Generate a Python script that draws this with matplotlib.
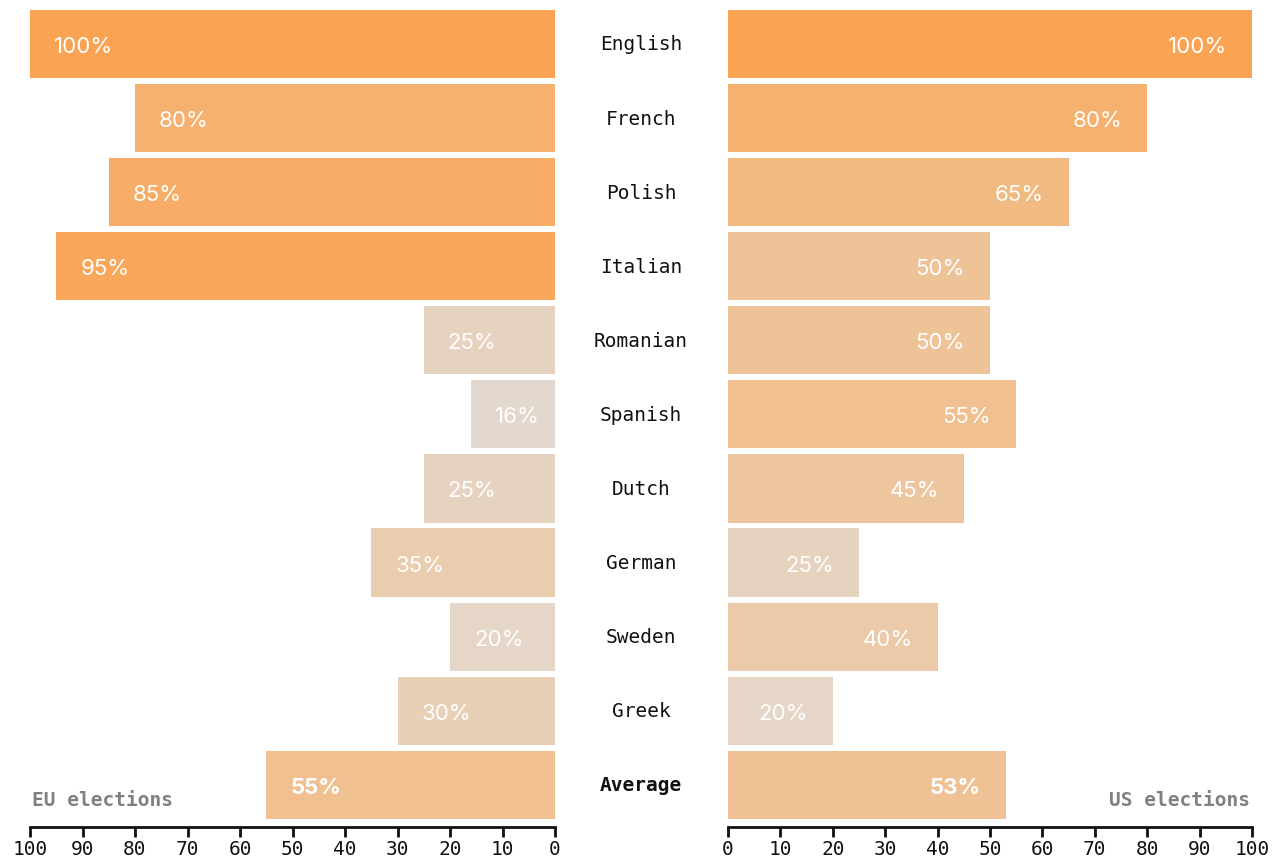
import matplotlib
matplotlib.use("Agg")
import matplotlib.pyplot as plt
from matplotlib.colors import LinearSegmentedColormap, Normalize

categories = ["English", "French", "Polish", "Italian", "Romanian", "Spanish",
              "Dutch", "German", "Sweden", "Greek", "Average"]
eu_values = [100, 80, 85, 95, 25, 16, 25, 35, 20, 30, 55]
us_values = [100, 80, 65, 50, 50, 55, 45, 25, 40, 20, 53]
ticks = [0, 10, 20, 30, 40, 50, 60, 70, 80, 90, 100]

cmap = LinearSegmentedColormap.from_list(
    "warm", [(0.0, "#e3d9cf"), (0.41, "#efc398"), (1.0, "#faa453")])
norm = Normalize(vmin=15, vmax=100)

MONO = ["DejaVu Sans Mono"]
VAL = ["Inter", "DejaVu Sans"]

fig = plt.figure(figsize=(12.84, 8.62), dpi=100)
W, H = 1284, 862
bottom = (H - 828) / H
height = 820 / H
axL = fig.add_axes([30 / W, bottom, 525 / W, height])
axR = fig.add_axes([728 / W, bottom, 524 / W, height])

ypos = list(range(len(categories)))
bar_h = 0.92

for ax, vals, side in [(axL, eu_values, "L"), (axR, us_values, "R")]:
    colors = [cmap(norm(v)) for v in vals]
    ax.barh(ypos, vals, height=bar_h, color=colors, edgecolor="none")
    ax.set_xlim(0, 100)
    ax.set_ylim(10.57, -0.5)
    if side == "L":
        ax.invert_xaxis()
    for s in ["top", "left", "right"]:
        ax.spines[s].set_visible(False)
    ax.spines["bottom"].set_linewidth(2)
    ax.spines["bottom"].set_color("#111111")
    ax.set_yticks([])
    ax.set_xticks(ticks)
    ax.set_xticklabels([str(t) for t in ticks], family=MONO, fontsize=14, color="#111111")
    ax.tick_params(axis="x", length=7.5, width=2, color="#111111", pad=1.5)
    for i, v in enumerate(vals):
        bold = categories[i] == "Average"
        if side == "L":
            ax.annotate(f"{v}%", xy=(v, i), xytext=(24, -2), textcoords="offset pixels",
                        ha="left", va="center", color="white", fontsize=16,
                        family=VAL, fontweight="bold" if bold else "normal")
        else:
            ax.annotate(f"{v}%", xy=(v, i), xytext=(-25, -2), textcoords="offset pixels",
                        ha="right", va="center", color="white", fontsize=16,
                        family=VAL, fontweight="bold" if bold else "normal")

# category labels in the middle
for i, c in enumerate(categories):
    y_px = 45 + i * 74.1
    fig.text(641 / W, 1 - y_px / H, c, ha="center", va="center", family=MONO,
             fontsize=14, color="#111111", fontweight="bold" if c == "Average" else "normal")

fig.text(32 / W, 1 - 801 / H, "EU elections", ha="left", va="center", family=MONO,
         fontsize=14, color="#808080", fontweight="bold")
fig.text(1250 / W, 1 - 801 / H, "US elections", ha="right", va="center", family=MONO,
         fontsize=14, color="#808080", fontweight="bold")

fig.savefig("out.png", dpi=100, facecolor="white")
